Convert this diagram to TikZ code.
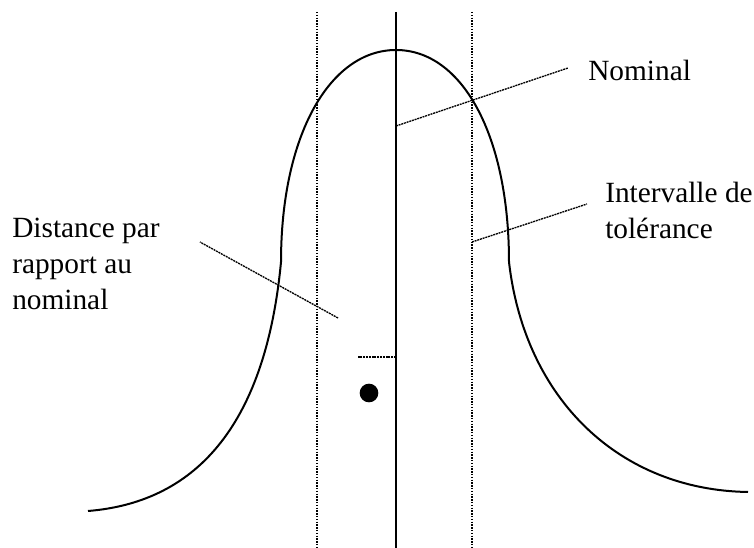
\documentclass[tikz,border=0pt]{standalone}
\usepackage{fontspec}
\setmainfont{Liberation Serif}
\usepackage{tikz}

\begin{document}
\begin{tikzpicture}[x=0.75pt,y=-0.75pt,
	courbe/.style={line width=1.5pt, line join=round},
	borne/.style={densely dotted, line width=1.1pt},
	repere/.style={dash pattern=on 1.5pt off 0.6pt, line width=1pt},
	etiquette/.style={inner sep=0pt, font=\fontsize{22}{27}\selectfont, align=left}]
	\useasboundingbox (0,0) rectangle (754,548);
	% intervalle de tolerance et nominal
	\draw[borne](317,12) -- (317,548);
	\draw[borne](472,12) -- (472,548);
	\draw[line width=1.3pt](396,12) -- (396,548);
	% la courbe en cloche
	\draw[courbe](88,511) .. controls (200,502) and (266,420) .. (281,262);
	\draw[courbe](281,262) .. controls (281,135) and (330,50) .. (396,50);
	\draw[courbe](396,50) .. controls (462,50) and (509,135) .. (509,262);
	\draw[courbe](509,262) .. controls (525,400) and (620,490) .. (748,492);
	% le point et son ecart
	\coordinate (ecart) at (396,357);
	\draw[repere](ecart) -- ++(-39,0);
	\node[circle, fill, inner sep=0pt, minimum size=14pt] (point) at (369,393) {};
	% les etiquettes
	\node[etiquette, anchor=west] (nominal) at (588,70) {Nominal};
	\node[etiquette, anchor=west] (tolerance) at (605,210) {Intervalle de\\tolérance};
	\node[etiquette, anchor=west] (distance) at (12,264) {Distance par\\rapport au\\nominal};
	\coordinate (pnom) at (396,126);
	\coordinate (ptol) at (472,242);
	\coordinate (pdist) at (338,318);
	\draw[repere](pnom) -- ([shift={(-20,-2)}]nominal.west);
	\draw[repere](ptol) -- ([shift={(-18,-6)}]tolerance.west);
	\draw[repere](pdist) -- ([shift={(40,-22)}]distance.east);
\end{tikzpicture}
\end{document}
